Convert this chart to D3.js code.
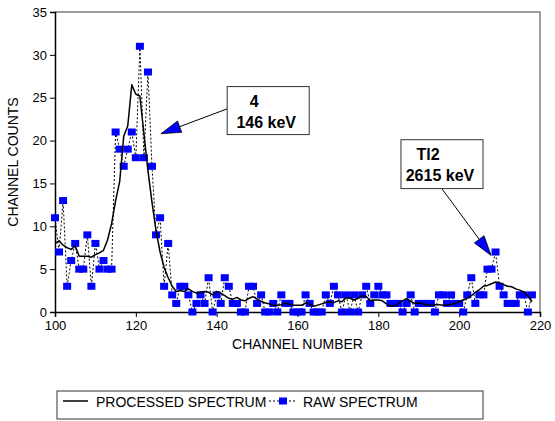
<!DOCTYPE html>
<html>
<head>
<meta charset="utf-8">
<script src="https://cdn.jsdelivr.net/npm/d3@7"></script>
<style>
  body { margin: 0; background: #fff; }
  svg text { font-family: "Liberation Sans", Arial, sans-serif; }
</style>
</head>
<body>
<div id="chart"></div>
<script>
// channel numbers 100..218
const channels = d3.range(100, 219);

// raw counts, one per channel
const rawCounts = [
  11, 7, 13, 3, 6, 8, 5, 5, 9, 3,      // 100-109
  8, 5, 6, 5, 5, 21, 19, 17, 19, 21,   // 110-119
  18, 31, 18, 28, 17, 9, 11, 3, 8, 2,  // 120-129
  1, 3, 3, 2, 0, 1, 2, 1, 4, 0,        // 130-139
  2, 1, 4, 3, 1, 1, 0, 0, 3, 3,        // 140-149
  1, 2, 0, 0, 1, 0, 2, 1, 1, 0,        // 150-159
  0, 0, 2, 1, 0, 0, 0, 2, 1, 3,        // 160-169
  2, 0, 2, 0, 2, 0, 2, 3, 1, 2,        // 170-179
  3, 2, 2, 1, 1, 1, 0, 1, 2, 0,        // 180-189
  1, 1, 1, 1, 0, 2, 2, 1, 2, 1,        // 190-199
  1, 0, 2, 4, 1, 2, 2, 5, 5, 7,        // 200-209
  3, 2, 1, 1, 1, 2, 2, 0, 2            // 210-218
];

// processed (smoothed) spectrum, one per channel
const processedCounts = [
  8.0, 8.3, 7.8, 7.5, 7.3, 7.7, 6.5, 6.5, 6.5, 6.4,
  6.7, 6.9, 7.2, 8.4, 10.3, 13.0, 15.2, 20.5, 21.7, 26.5,
  25.4, 25.2, 20.8, 16.5, 12.8, 9.5, 7.0, 5.2, 4.0, 3.0,
  2.4, 2.5, 2.4, 2.7, 2.4, 2.2, 2.3, 2.4, 2.3, 2.0,
  2.4, 2.2, 1.9, 1.6, 1.5, 1.7, 1.4, 1.3, 1.6, 1.8,
  1.5, 1.25, 1.05, 0.95, 0.8, 0.8, 0.85, 1.05, 0.9, 0.8,
  0.78, 0.78, 1.05, 0.9, 0.66, 0.8, 0.95, 1.1, 1.2, 1.1,
  1.3, 1.2, 1.7, 1.6, 1.4, 1.6, 1.9, 1.8, 1.3, 1.4,
  1.4, 1.3, 0.95, 0.66, 0.72, 1.0, 1.3, 1.55, 1.25, 1.0,
  1.05, 0.95, 0.85, 0.8, 0.85, 0.85, 0.8, 0.8, 0.9, 1.0,
  1.2, 1.4, 1.6, 1.9, 2.3, 2.6, 3.0, 3.1, 3.3, 3.5,
  3.4, 3.2, 3.0, 2.95, 2.7, 2.55, 2.35, 1.9, 1.2
];

const xTicks = [100, 120, 140, 160, 180, 200, 220];
const yTicks = [0, 5, 10, 15, 20, 25, 30, 35];
const seriesNames = ['PROCESSED SPECTRUM', 'RAW SPECTRUM'];

// annotation labels: text lines, box corners (data units), arrow start and tip (data units)
const annotations = [
  { lines: ['4', '146 keV'], box: [142.6, 26.3, 162.9, 20.7], from: [142.6, 23.7], tip: [126.2, 20.8] },
  { lines: ['Tl2', '2615 keV'], box: [185.6, 20.1, 205.9, 14.4], from: [195.7, 14.4], tip: [207.9, 6.6] }
];

const width = 555, height = 421;
const margin = { top: 12, right: 15, bottom: 109, left: 55 };

const svg = d3.select('#chart')
  .append('svg')
  .attr('width', width)
  .attr('height', height);

svg.append('rect').attr('width', width).attr('height', height).attr('fill', '#fff');

const x = d3.scaleLinear()
  .domain([100, 220])
  .range([margin.left, width - margin.right]);

const y = d3.scaleLinear()
  .domain([0, 35])
  .range([height - margin.bottom, margin.top]);

// gray frame top and right
svg.append('path')
  .attr('d', `M${x(100)},${y(35)}H${x(220)}V${y(0)}`)
  .attr('fill', 'none')
  .attr('stroke', '#808080')
  .attr('stroke-width', 1.5);

// axes
const xAxis = svg.append('g')
  .attr('transform', `translate(0,${y(0)})`)
  .call(d3.axisBottom(x).tickValues(xTicks).tickSize(5).tickPadding(4));

const yAxis = svg.append('g')
  .attr('transform', `translate(${x(100)},0)`)
  .call(d3.axisLeft(y).tickValues(yTicks).tickSize(5).tickPadding(3));

[xAxis, yAxis].forEach(g => {
  g.select('.domain').attr('stroke', '#000').attr('stroke-width', 1.5);
  g.selectAll('.tick line').attr('stroke', '#000');
  g.selectAll('.tick text')
    .attr('fill', '#000')
    .style('font-size', '13px')
    .style('font-family', '"Liberation Sans", Arial, sans-serif');
});

// axis titles
svg.append('text')
  .attr('x', (x(100) + x(220)) / 2)
  .attr('y', 349)
  .attr('text-anchor', 'middle')
  .style('font-size', '14px')
  .text('CHANNEL NUMBER');

svg.append('text')
  .attr('transform', `translate(18,${(y(0) + y(35)) / 2}) rotate(-90)`)
  .attr('text-anchor', 'middle')
  .style('font-size', '14px')
  .text('CHANNEL COUNTS');

// raw spectrum: dotted line + blue squares
const rawData = channels.map((c, i) => ({ c, v: rawCounts[i] }));
const procData = channels.map((c, i) => ({ c, v: processedCounts[i] }));

const line = d3.line().x(d => x(d.c)).y(d => y(d.v));

svg.append('path')
  .datum(rawData)
  .attr('d', line)
  .attr('fill', 'none')
  .attr('stroke', '#000')
  .attr('stroke-width', 1)
  .attr('stroke-dasharray', '2,2');

svg.append('g')
  .selectAll('rect')
  .data(rawData)
  .enter()
  .append('rect')
  .attr('x', d => x(d.c) - 4)
  .attr('y', d => y(d.v) - 3.5)
  .attr('width', 8)
  .attr('height', 7)
  .attr('fill', '#0000ff');

// processed spectrum
svg.append('path')
  .datum(procData)
  .attr('d', line)
  .attr('fill', 'none')
  .attr('stroke', '#000')
  .attr('stroke-width', 1.5)
  .attr('stroke-linejoin', 'round');

// annotations
annotations.forEach(a => {
  const x0 = x(a.box[0]), y0 = y(a.box[1]), x1 = x(a.box[2]), y1 = y(a.box[3]);
  const fx = x(a.from[0]), fy = y(a.from[1]);
  const tx = x(a.tip[0]), ty = y(a.tip[1]);
  const dx = tx - fx, dy = ty - fy, len = Math.hypot(dx, dy);
  const ux = dx / len, uy = dy / len;
  const hl = 20, hw = 6;
  const bx = tx - ux * hl, by = ty - uy * hl;

  svg.append('line')
    .attr('x1', fx).attr('y1', fy).attr('x2', bx).attr('y2', by)
    .attr('stroke', '#000').attr('stroke-width', 1);

  svg.append('path')
    .attr('d', `M${tx},${ty}L${bx - uy * hw},${by + ux * hw}L${bx + uy * hw},${by - ux * hw}Z`)
    .attr('fill', '#0000ff')
    .attr('stroke', '#000')
    .attr('stroke-width', 0.8);

  svg.append('rect')
    .attr('x', x0).attr('y', y0)
    .attr('width', x1 - x0).attr('height', y1 - y0)
    .attr('fill', '#fff')
    .attr('stroke', '#333')
    .attr('stroke-width', 1);

  const cx = (x0 + x1) / 2;
  svg.append('text')
    .attr('x', cx - 14).attr('y', y0 + 20)
    .attr('text-anchor', 'middle')
    .style('font-size', '16px').style('font-weight', 'bold')
    .text(a.lines[0]);
  svg.append('text')
    .attr('x', cx - 2).attr('y', y0 + 41)
    .attr('text-anchor', 'middle')
    .style('font-size', '16px').style('font-weight', 'bold')
    .text(a.lines[1]);
});

// legend
const legend = svg.append('g');
legend.append('rect')
  .attr('x', 57).attr('y', 391).attr('width', 426).attr('height', 28)
  .attr('fill', '#fff').attr('stroke', '#333').attr('stroke-width', 1);

legend.append('line')
  .attr('x1', 63).attr('x2', 88).attr('y1', 401).attr('y2', 401)
  .attr('stroke', '#000').attr('stroke-width', 1.5);
legend.append('text')
  .attr('x', 96).attr('y', 407)
  .style('font-size', '14px')
  .text(seriesNames[0]);

legend.append('line')
  .attr('x1', 269).attr('x2', 296).attr('y1', 401).attr('y2', 401)
  .attr('stroke', '#000').attr('stroke-width', 1).attr('stroke-dasharray', '2,2');
legend.append('rect')
  .attr('x', 279).attr('y', 397.5).attr('width', 8).attr('height', 7)
  .attr('fill', '#0000ff');
legend.append('text')
  .attr('x', 303).attr('y', 407)
  .style('font-size', '14px')
  .text(seriesNames[1]);
</script>
</body>
</html>
